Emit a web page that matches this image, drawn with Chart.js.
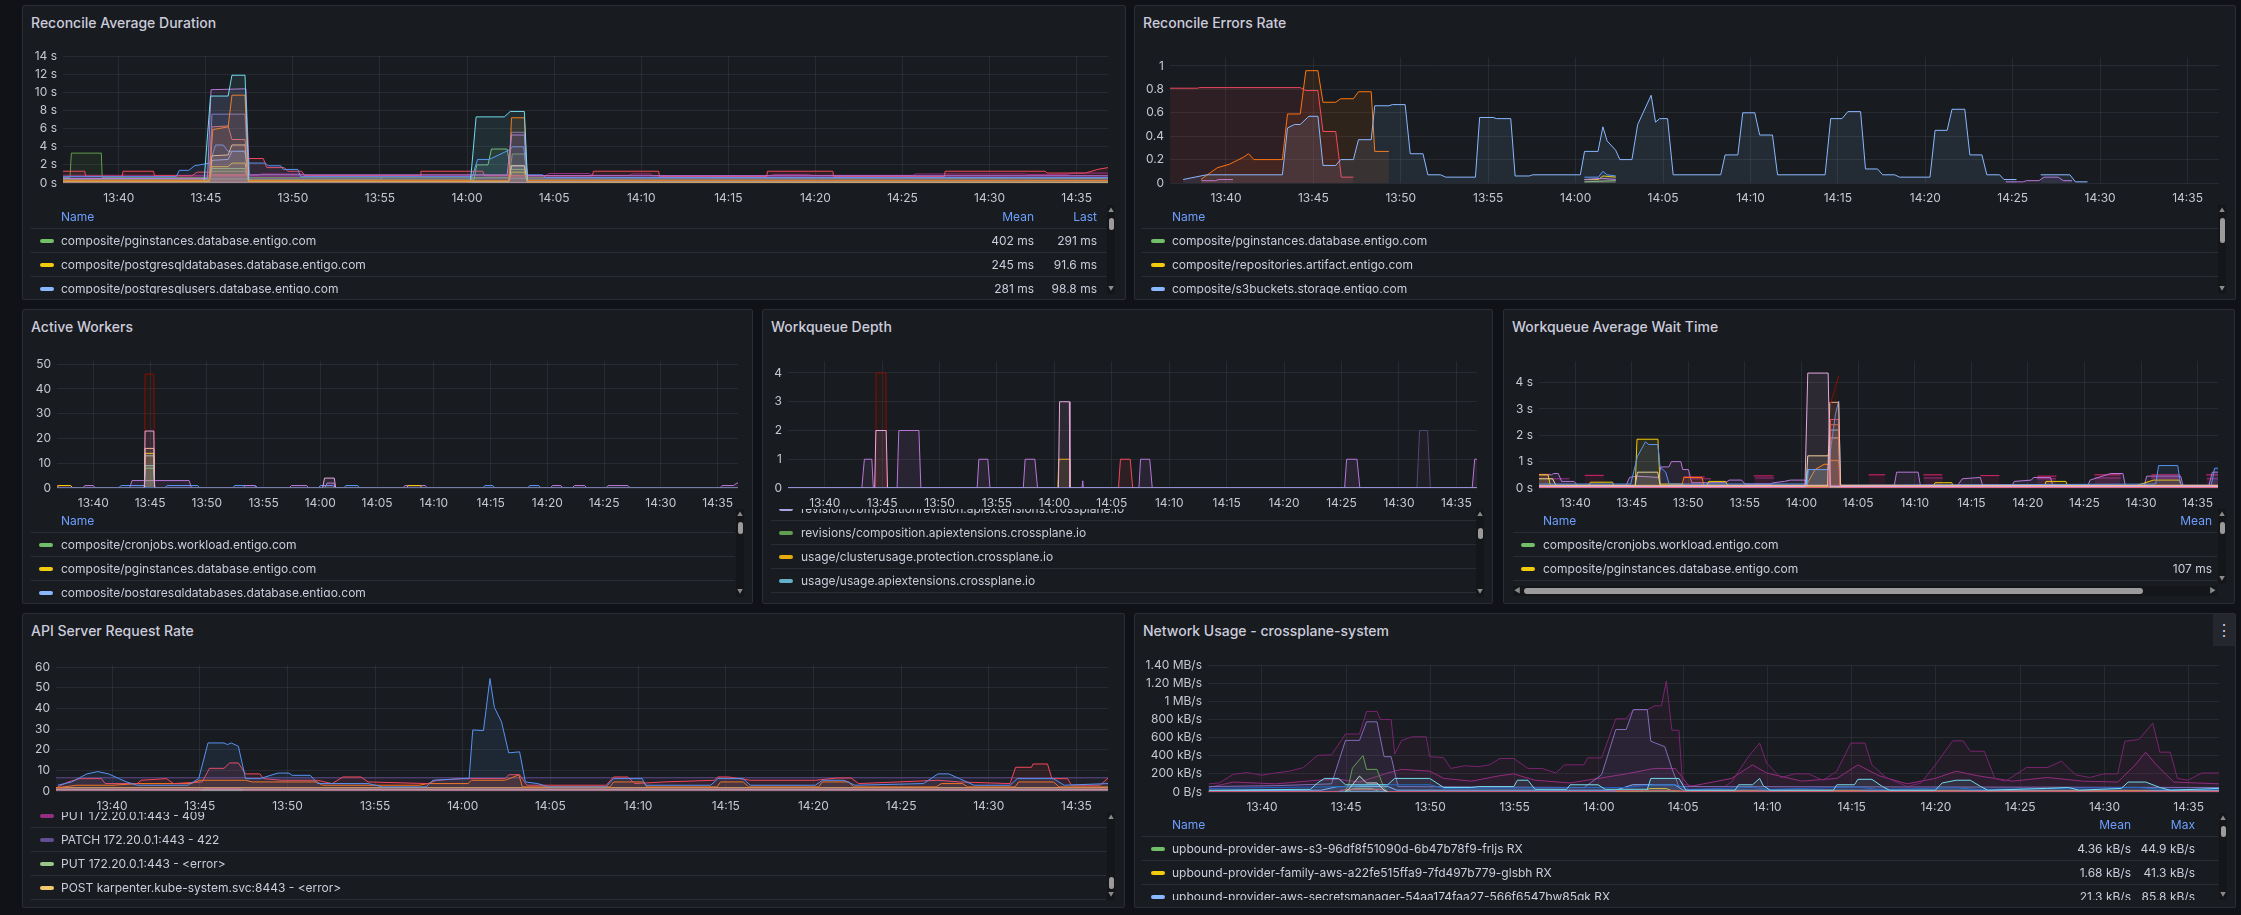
<!DOCTYPE html>
<html>
<head>
<meta charset="utf-8">
<script src="https://cdn.jsdelivr.net/npm/chart.js@4.4.1/dist/chart.umd.min.js"></script>
<style>
  html, body { margin: 0; padding: 0; background: #111217; width: 2241px; height: 915px; overflow: hidden; font-family: Inter, "Noto Sans", sans-serif; }
  .panel { position: absolute; background: #181b1f; border: 1px solid #2a2d33; border-radius: 2px; box-sizing: border-box; }
  .title { position: absolute; left: 8px; top: 8px; color: #ccccdc; font-size: 14px; font-weight: 500; line-height: 18px; white-space: nowrap; }
  .cw { position: absolute; }
  .lg { position: absolute; overflow: hidden; }
  .row { position: absolute; left: 0; right: 0; height: 24px; border-bottom: 1px solid #2a2d33; box-sizing: border-box; font-size: 12px; line-height: 24px; color: #ccccdc; white-space: nowrap; }
  .sw { position: absolute; top: 10px; width: 14px; height: 4px; border-radius: 2px; }
  .hd { color: #6e9fff; }
  .vs { position: absolute; width: 8px; background: #141619; }
  .th { position: absolute; left: 2px; width: 5px; border-radius: 3px; background: #9b9b9b; }
  .ar { position: absolute; left: 0; width: 8px; text-align: center; font-size: 6px; line-height: 8px; color: #8a8a8a; }
</style>
</head>
<body>
<script>
// ---- shared time axis (minutes after 13:00) ----
const tMin = 36.8, tMax = 96.8;
const timeTicks = [40, 45, 50, 55, 60, 65, 70, 75, 80, 85, 90, 95];
const timeLabels = ['13:40', '13:45', '13:50', '13:55', '14:00', '14:05', '14:10', '14:15', '14:20', '14:25', '14:30', '14:35'];

// ---- Reconcile Average Duration (s) ----
const durTicks = [0, 2, 4, 6, 8, 10, 12, 14];
const durLabels = ['0 s', '2 s', '4 s', '6 s', '8 s', '10 s', '12 s', '14 s'];
const durCyan = [[44.9,0.3],[45.27,9.6],[46.28,9.6],[46.5,11.9],[47.25,11.9],[47.47,0.3],[47.6,null],[60.2,0.3],[60.52,7.3],[62.14,7.3],[62.48,7.9],[63.29,7.9],[63.47,0.3]];
const durPurple = [[36.8,0.5],[45.1,0.5],[45.3,10.3],[47.3,10.4],[47.5,0.9],[62.3,0.9],[62.55,5.3],[63.29,5.3],[63.45,0.8],[96.8,0.8]];
const durOrange = [[36.8,0.3],[45.2,0.3],[45.4,5.9],[46.28,6.2],[46.5,9.7],[47.25,9.7],[47.45,0.3],[62.4,0.3],[62.55,7.2],[63.29,7.2],[63.45,0.3],[96.8,0.3]];
const durLav = [[45.2,0.4],[45.35,7.6],[47.25,7.6],[47.45,0.4],[47.6,null],[62.4,0.4],[62.55,5.6],[63.29,5.6],[63.45,0.4]];
const durCoral = [[45.2,0.6],[45.35,6.2],[46.28,6.3],[46.5,4.8],[47.25,4.8],[47.45,0.6]];
const durCream = [[45.2,0.3],[45.35,3.0],[46.28,3.1],[46.5,4.2],[47.25,4.2],[47.45,0.3],[47.6,null],[62.4,0.3],[62.55,1.9],[63.29,1.9],[63.45,0.3]];
const durBlue = [[36.8,0.7],[43.3,0.7],[43.48,1.4],[44.02,1.4],[44.35,1.9],[45.23,2.2],[45.56,4.2],[46.0,4.2],[46.28,3.5],[47.21,3.5],[47.47,2.2],[48.42,2.2],[48.57,1.9],[49.3,1.9],[49.45,1.5],[50.28,1.5],[50.45,0.7],[60.3,0.7],[60.6,2.6],[61.27,2.6],[62.48,3.7],[62.6,4.0],[63.25,4.0],[63.45,0.9],[64.34,0.9],[64.5,0.6],[96.8,0.6]];
const durRed = [[36.8,1.3],[38.05,1.3],[38.1,0.75],[40.2,0.75],[40.25,1.3],[42.0,1.3],[42.05,0.8],[44.2,0.8],[44.5,1.2],[45.2,1.2],[45.35,0.9],[47.25,0.9],[47.45,2.7],[48.3,2.7],[48.5,1.7],[49.5,1.7],[49.7,1.3],[50.5,1.3],[50.7,0.8],[57.3,0.8],[57.35,1.3],[60.9,1.3],[61.0,0.8],[67.2,0.8],[67.25,1.3],[71.0,1.3],[71.05,0.7],[77.2,0.7],[77.25,1.3],[81.0,1.3],[81.05,0.7],[87.4,0.7],[87.45,1.3],[93.2,1.3],[93.3,1.1],[95.5,1.1],[96.2,1.5],[96.8,1.7]];
const durPg = [[36.8,0.35],[45.2,0.35],[45.35,1.6],[47.25,1.6],[47.45,0.35],[60.4,0.35],[60.55,2.0],[61.2,2.0],[61.4,3.75],[62.3,3.75],[62.5,1.5],[63.29,1.5],[63.45,0.35],[96.8,0.3]];
const durPgDb = [[36.8,0.15],[45.2,0.15],[45.35,1.8],[46.28,1.8],[46.5,2.2],[47.25,2.2],[47.45,0.15],[62.4,0.15],[62.55,1.2],[63.29,1.2],[63.45,0.1],[96.8,0.1]];
const durPgUser = [[36.8,0.2],[45.2,0.2],[45.35,2.5],[46.28,2.6],[46.5,3.5],[47.25,3.5],[47.45,0.2],[62.4,0.2],[62.55,1.9],[63.29,1.9],[63.45,0.15],[96.8,0.1]];
const durGreen2 = [[36.8,0.6],[37.2,0.6],[37.28,3.3],[39.0,3.3],[39.05,0.6],[45.2,0.6],[45.35,1.3],[47.25,1.3],[47.45,0.6],[62.4,0.6],[62.6,3.2],[63.29,3.2],[63.45,0.6],[96.8,0.55]];
const durMag = [[36.8,0.85],[48,0.85],[48.2,1.0],[50.5,1.0],[50.7,0.8],[64.5,0.8],[64.7,1.05],[67.0,1.05],[67.2,0.85],[69.3,0.85],[69.5,1.0],[70.5,1.0],[70.7,0.8],[77.4,0.8],[77.6,0.95],[79.6,0.95],[79.8,0.85],[85.6,0.85],[85.8,1.0],[92.0,1.0],[92.2,0.95],[94.5,0.95],[94.7,1.1],[96.8,1.1]];
const durPlum = [[36.8,0.7],[52,0.7],[52.2,0.6],[74,0.6],[74.2,0.7],[96.8,0.65]];
const durLBlue = [[36.8,0.45],[55,0.45],[55.2,0.55],[96.8,0.5]];
const durPink = [[36.8,0.1],[60,0.1],[60.2,0.05],[96.8,0.05]];
const durLegend = [
  ['#73BF69', 'composite/pginstances.database.entigo.com', '402 ms', '291 ms'],
  ['#F2CC0C', 'composite/postgresqldatabases.database.entigo.com', '245 ms', '91.6 ms'],
  ['#8AB8FF', 'composite/postgresqlusers.database.entigo.com', '281 ms', '98.8 ms']
];

// ---- Reconcile Errors Rate ----
const errTicks = [0, 0.2, 0.4, 0.6, 0.8, 1];
const errLabels = ['0', '0.2', '0.4', '0.6', '0.8', '1'];
const errRed = [[36.8,0.81],[38.37,0.81],[38.5,0.815],[44.25,0.815],[44.57,0.79],[45.26,0.79],[45.55,0.44],[46.28,0.44],[46.6,0.05],[47.29,0.05]];
const errOrange = [[38.57,0.03],[39.5,0.13],[40.19,0.16],[41.0,0.22],[41.29,0.25],[41.6,0.2],[43.23,0.2],[43.52,0.59],[44.25,0.59],[44.57,0.96],[45.26,0.96],[45.55,0.69],[46.28,0.69],[46.56,0.72],[47.29,0.72],[47.58,0.78],[48.31,0.78],[48.51,0.27],[49.32,0.27]];
const errS3 = [[37.55,0.03],[38.89,0.07],[43.23,0.07],[43.52,0.47],[43.92,0.5],[44.25,0.5],[44.74,0.57],[45.26,0.57],[45.55,0.15],[46.28,0.15],[46.56,0.2],[47.29,0.2],[47.58,0.37],[48.31,0.37],[48.51,0.66],[49.32,0.66],[49.52,0.67],[50.25,0.67],[50.54,0.25],[51.27,0.25],[51.55,0.07],[52.28,0.07],[52.57,0.05],[54.27,0.05],[54.51,0.56],[55.28,0.56],[55.48,0.55],[56.29,0.55],[56.54,0.06],[57.35,0.06],[57.55,0.07],[60.27,0.07],[60.51,0.27],[61.28,0.27],[61.56,0.48],[61.8,0.36],[62.29,0.28],[62.53,0.2],[63.22,0.2],[63.55,0.5],[64.32,0.75],[64.57,0.52],[64.81,0.55],[65.26,0.55],[65.58,0.07],[68.3,0.07],[68.55,0.24],[69.28,0.24],[69.56,0.6],[70.25,0.6],[70.53,0.41],[71.26,0.41],[71.55,0.07],[74.27,0.07],[74.59,0.55],[75.24,0.55],[75.57,0.61],[76.3,0.61],[76.58,0.12],[77.27,0.12],[77.56,0.07],[78.25,0.07],[78.53,0.05],[80.27,0.05],[80.56,0.45],[81.25,0.45],[81.53,0.63],[82.26,0.63],[82.55,0.24],[83.24,0.24],[83.52,0.07],[84.25,0.07],[84.5,0.03],[85.22,0.03],[85.3,null],[86.6,0.07],[88.27,0.07],[88.59,0.01],[89.28,0.01]];
const errPurple = [[38.6,0.02],[39.4,0.02],[39.6,0.03],[40.4,0.03],[40.5,null],[60.5,0.03],[61.5,0.04],[62.3,0.03],[62.4,null],[84.6,0.01],[85.6,0.01],[85.8,0.02],[86.5,0.02],[86.8,0.05],[87.6,0.05],[87.9,0.02],[88.4,0.02]];
const errRepo = [[60.5,0.03],[61.3,0.03],[61.56,0.06],[62.3,0.05]];
const errPg = [[60.5,0.01],[62.3,0.02]];
const errBlue = [[60.5,0.05],[61.3,0.05],[61.56,0.1],[61.8,0.07],[62.3,0.06]];
const errLegend = [
  ['#73BF69', 'composite/pginstances.database.entigo.com'],
  ['#F2CC0C', 'composite/repositories.artifact.entigo.com'],
  ['#8AB8FF', 'composite/s3buckets.storage.entigo.com']
];

// ---- Active Workers ----
const wkTicks = [0, 10, 20, 30, 40, 50];
const wkLabels = ['0', '10', '20', '30', '40', '50'];
const wkRed = [[36.8,0],[44.5,0],[44.56,46],[45.33,46],[45.4,0],[96.8,0]];
const wkPink = [[36.8,0],[44.5,0],[44.56,23],[45.33,23],[45.4,0],[60.2,0],[60.37,4],[61.23,4],[61.35,0],[96.8,0]];
const wkPeach = [[44.5,0],[44.56,16],[45.33,16],[45.4,0]];
const wkPg = [[36.8,0],[36.93,1],[38.0,1],[38.2,0],[44.5,0],[44.56,14],[45.33,14],[45.4,0],[67.6,0],[67.75,1],[68.8,1],[68.98,0],[96.8,0]];
const wkSlate = [[44.5,0],[44.56,13],[45.33,13],[45.4,0]];
const wkCyan = [[44.5,0],[44.56,9],[45.33,9],[45.4,0]];
const wkCron = [[44.5,0],[44.56,8],[45.33,8],[45.4,0]];
const wkPurple = [[36.8,0],[39.06,0],[39.25,1],[40.0,1],[40.2,0],[43.2,0],[43.41,3],[48.44,3],[48.65,0],[53.2,0],[53.38,1],[54.2,1],[54.4,0],[57.26,0],[57.45,1],[58.8,1],[58.97,0],[60.4,0],[60.6,2],[61.2,2],[61.3,0],[67.28,0],[67.45,1],[69.25,1],[69.41,0],[80.28,0],[80.45,1],[81.2,1],[81.35,0],[82.2,0],[82.38,1],[83.3,1],[83.48,0],[85.18,0],[85.35,1],[87.1,1],[87.31,0],[95.2,0],[95.4,1],[96.4,1],[96.7,2],[96.8,2]];
const wkBlue = [[36.8,0],[42.2,0],[42.45,1],[44.5,1],[44.7,0],[46.3,0],[46.5,1],[49.2,1],[49.38,0],[52.28,0],[52.45,1],[54.3,1],[54.49,0],[59.82,0],[60.0,1],[61.1,1],[61.31,0],[62.08,0],[62.25,1],[63.3,1],[63.44,0],[74.31,0],[74.5,1],[75.2,1],[75.38,0],[78.28,0],[78.45,1],[79.25,1],[79.43,0],[96.8,0]];
const wkCoral = [[36.8,1],[38.0,1],[38.2,0],[38.3,null]];
const wkBase = [[36.8,0],[96.8,0]];
const wkLegend = [
  ['#73BF69', 'composite/cronjobs.workload.entigo.com'],
  ['#F2CC0C', 'composite/pginstances.database.entigo.com'],
  ['#8AB8FF', 'composite/postgresqldatabases.database.entigo.com']
];

// ---- Workqueue Depth ----
const dpTicks = [0, 1, 2, 3, 4];
const dpLabels = ['0', '1', '2', '3', '4'];
const dpPurple = [[36.8,0],[43.23,0],[43.45,1],[44.1,1],[44.23,0],[46.3,0],[46.45,2],[48.2,2],[48.37,0],[53.27,0],[53.42,1],[54.2,1],[54.39,0],[57.29,0],[57.45,1],[58.3,1],[58.53,0],[62.4,0],[62.47,0.25],[62.52,0],[67.36,0],[67.5,1],[68.3,1],[68.52,0],[85.27,0],[85.45,1],[86.35,1],[86.6,0],[96.38,0],[96.6,1],[96.8,1]];
const dpPink = [[36.8,0],[44.35,0],[44.45,2],[45.35,2],[45.47,0],[60.35,0],[60.45,3],[61.3,3],[61.35,0],[96.8,0]];
const dpRed = [[36.8,0],[44.44,0],[44.47,4],[45.33,4],[45.36,0],[96.8,0]];
const dpClusterUsage = [[36.8,0],[60.3,0],[60.38,1],[61.31,1],[61.35,0],[96.8,0]];
const dpCoral = [[36.8,0],[65.58,0],[65.75,1],[66.6,1],[66.82,0],[96.8,0]];
const dpPlum = [[36.8,0],[91.57,0],[91.8,2],[92.5,2],[92.74,0],[96.8,0]];
const dpUsage = [[36.8,0],[96.8,0]];
const dpLegend = [
  ['#AEA2E0', 'revision/compositionrevision.apiextensions.crossplane.io'],
  ['#629E51', 'revisions/composition.apiextensions.crossplane.io'],
  ['#E5AC0E', 'usage/clusterusage.protection.crossplane.io'],
  ['#64B0C8', 'usage/usage.apiextensions.crossplane.io']
];

// ---- Workqueue Average Wait Time (s) ----
const wtTicks = [0, 1, 2, 3, 4];
const wtLabels = ['0 s', '1 s', '2 s', '3 s', '4 s'];
const wtPink = [[36.8,0.05],[60.3,0.05],[60.55,4.36],[62.35,4.36],[62.55,0.05],[96.8,0.05]];
const wtDarkRed = [[62.56,3.2],[63.28,4.25]];
const wtPeach = [[36.8,0.1],[62.3,0.1],[62.5,3.25],[63.28,3.25],[63.45,0.1],[96.8,0.1]];
const wtBlue = [[36.8,0.15],[44.9,0.15],[45.5,1.2],[46.2,1.75],[46.5,1.65],[47.3,1.65],[47.5,0.8],[48.0,0.6],[48.3,0.15],[60.5,0.15],[60.6,0.7],[62.35,0.7],[62.55,1.4],[63.0,2.8],[63.28,3.3],[63.45,0.1],[91.3,0.15],[91.55,0.85],[93.24,0.85],[93.5,0.1],[96.2,0.1],[96.5,0.75],[96.8,0.75]];
const wtRed = [[36.8,0.02],[62.45,0.02],[62.55,2.6],[63.28,2.6],[63.4,0.02],[96.8,0.02]];
const wtRust = [[62.45,0.1],[62.55,2.4],[63.28,2.4],[63.4,0.1]];
const wtCyan = [[36.8,0.05],[60.4,0.05],[60.55,0.7],[62.35,0.7],[62.55,2.2],[63.28,2.2],[63.4,0.05],[96.8,0.05]];
const wtCream = [[36.8,0.35],[38.0,0.35],[38.3,0.1],[45.3,0.1],[45.5,0.6],[47.3,0.6],[47.5,0.1],[60.4,0.1],[60.55,1.22],[62.35,1.22],[62.55,1.9],[63.28,1.9],[63.45,0.1],[96.8,0.1]];
const wtOrange = [[36.8,0.05],[49.4,0.05],[49.6,0.4],[51.2,0.4],[51.4,0.05],[60.4,0.05],[60.6,0.25],[61.2,0.7],[62.0,0.9],[62.35,0.9],[62.55,1.05],[63.28,1.05],[63.45,0.05],[96.8,0.05]];
const wtPg = [[36.8,0.5],[37.6,0.5],[37.8,0.1],[41.2,0.1],[41.35,0.22],[43.3,0.22],[43.45,0.05],[45.3,0.05],[45.46,1.85],[47.31,1.85],[47.5,0.15],[49.5,0.15],[49.7,0.05],[51.6,0.05],[51.8,0.25],[53.3,0.25],[53.5,0.05],[71.6,0.05],[71.8,0.2],[73.28,0.2],[73.4,0.05],[81.47,0.05],[81.6,0.25],[83.36,0.25],[83.5,0.08],[89.5,0.08],[91.1,0.3],[93.4,0.3],[93.6,0.05],[96.8,0.05]];
const wtPurple = [[36.8,0.5],[37.9,0.5],[38.1,0.55],[38.5,0.55],[38.8,0.25],[39.9,0.25],[40.2,0.1],[44.5,0.1],[44.8,0.4],[45.4,0.45],[47.4,0.4],[47.56,0.8],[48.28,0.8],[48.5,1.0],[49.33,1.0],[49.5,0.7],[50.0,0.7],[50.3,0.2],[53.3,0.2],[53.6,0.3],[54.7,0.3],[55.0,0.15],[57.3,0.15],[57.5,0.2],[58.5,0.25],[59.0,0.3],[60.3,0.3],[60.5,0.1],[68.2,0.1],[68.4,0.6],[70.3,0.6],[70.5,0.1],[73.8,0.1],[74.2,0.35],[75.8,0.4],[76.0,0.1],[78.6,0.1],[78.8,0.25],[80.3,0.3],[80.5,0.4],[82.0,0.4],[82.2,0.1],[85.3,0.1],[85.5,0.3],[87.3,0.55],[88.4,0.55],[88.6,0.1],[90.3,0.1],[90.5,0.45],[93.5,0.45],[93.7,0.1],[96.0,0.1],[96.3,0.6],[96.8,0.6]];
const wtMag = [[36.8,0.52],[37.8,0.52],[37.9,null],[40.84,0.48],[42.52,0.48],[42.6,null],[49.54,0.42],[51.43,0.42],[51.5,null],[55.76,0.46],[57.52,0.46],[57.6,null],[65.92,0.5],[67.39,0.5],[67.5,null],[70.76,0.5],[72.44,0.5],[72.5,null],[75.8,0.47],[77.48,0.47],[77.6,null],[80.84,0.45],[82.52,0.45],[82.6,null],[85.88,0.5],[88.19,0.5],[88.3,null],[90.92,0.5],[93.45,0.5],[93.5,null],[95.76,0.5],[96.8,0.5]];
const wtMag2 = [[37.9,0.35],[39.5,0.35],[39.6,null],[50.3,0.35],[52.0,0.35],[52.1,null],[55.9,0.38],[57.6,0.38],[57.7,null],[70.8,0.38],[72.5,0.38],[72.6,null],[80.8,0.35],[82.5,0.35],[82.6,null],[85.9,0.38],[88.2,0.38],[88.3,null],[90.9,0.38],[93.4,0.38],[93.5,null],[95.8,0.35],[96.8,0.35]];
const wtCron = [[36.8,0.01],[96.8,0.01]];
const wtLegend = [
  ['#73BF69', 'composite/cronjobs.workload.entigo.com', ''],
  ['#F2CC0C', 'composite/pginstances.database.entigo.com', '107 ms']
];

// ---- API Server Request Rate ----
const apiTicks = [0, 10, 20, 30, 40, 50, 60];
const apiLabels = ['0', '10', '20', '30', '40', '50', '60'];
const apiBlue = [[36.9,2.8],[37.7,4.4],[38.56,8.3],[39.18,9.4],[39.8,8.3],[40.4,6.0],[40.82,4.4],[41.44,2.8],[44.32,2.8],[44.94,6.0],[45.47,23.3],[46.38,23.3],[46.58,22.5],[46.79,23.3],[47.2,21.7],[47.61,6.0],[48.43,6.0],[49.46,8.7],[50.08,8.7],[50.28,7.6],[51.31,7.6],[51.72,3.6],[54.6,3.6],[55.43,2.0],[57.9,2.0],[58.1,3.6],[58.3,5.2],[59.95,6.0],[60.36,6.0],[60.57,29.6],[61.18,29.3],[61.55,54.5],[61.8,40.6],[62.21,33.5],[62.62,18.5],[63.24,19.0],[63.57,4.4],[64.27,3.6],[64.89,2.0],[68.18,2.0],[68.59,6.0],[70.23,6.0],[70.44,2.8],[74.14,2.8],[74.55,6.0],[75.99,6.0],[76.4,2.8],[80.1,2.8],[80.52,5.2],[81.75,5.2],[82.37,2.8],[86.28,3.6],[87.1,8.3],[87.72,8.3],[88.33,6.0],[89.16,2.8],[91.21,2.8],[91.62,6.0],[93.68,6.0],[94.3,2.8],[96.8,3.6]];
const apiRed = [[36.9,2.0],[37.5,4.4],[38.15,6.0],[39.4,6.0],[39.6,3.6],[41.44,3.6],[41.65,5.2],[43.1,6.0],[43.5,3.6],[45.14,4.4],[45.55,11.0],[46.38,11.0],[46.7,13.6],[47.2,13.6],[47.61,8.3],[48.43,8.3],[48.64,6.0],[49.67,5.2],[51.72,5.2],[52.55,3.6],[53.16,6.8],[54.19,6.8],[54.6,4.4],[58.0,3.6],[58.5,5.2],[59.95,6.0],[62.42,6.0],[62.62,7.9],[63.24,7.9],[63.65,2.8],[68.18,2.8],[68.59,6.8],[69.41,6.8],[69.82,3.6],[71.47,4.4],[74.35,5.2],[74.55,6.8],[75.17,6.8],[76.4,5.2],[80.1,5.2],[81.34,6.3],[82.16,6.3],[82.57,3.6],[87.1,5.2],[88.33,4.4],[91.21,3.6],[91.53,11.5],[92.44,11.5],[92.52,13.1],[93.35,13.1],[93.6,6.0],[94.5,6.0],[94.71,2.8],[96.35,2.8],[96.8,6.3]];
const apiOrange = [[36.8,1.5],[38.0,2.8],[40.0,2.8],[41.5,3.6],[44.5,3.6],[45.0,5.2],[47.6,5.2],[48.0,4.4],[51.7,4.4],[52.0,2.8],[57.5,2.8],[58.0,3.6],[60.3,3.6],[60.5,5.2],[62.4,5.2],[63.2,7.8],[63.4,2.0],[68.4,2.0],[68.6,4.4],[70.3,4.4],[70.5,2.0],[74.5,2.0],[74.7,4.4],[76.0,4.4],[76.3,2.0],[80.3,2.0],[80.5,4.4],[82.0,4.4],[82.3,2.0],[87.0,2.0],[87.3,3.6],[88.5,3.6],[88.8,2.0],[91.5,2.0],[91.7,4.4],[93.7,4.4],[94.0,2.0],[96.8,2.0]];
const apiPatch422 = [[36.8,6.4],[96.8,6.4]];
const apiPut409 = [[36.8,0.3],[45,0.3],[45.3,1.2],[47.3,1.2],[47.5,0.3],[96.8,0.3]];
const apiPutErr = [[36.8,0.6],[96.8,0.6]];
const apiPostErr = [[36.8,1.6],[96.8,1.6]];
const apiPink = [[36.8,0.9],[96.8,0.9]];
const apiTeal = [[36.8,0.15],[96.8,0.15]];
const apiLegend = [
  ['#962D82', 'PUT 172.20.0.1:443 - 409'],
  ['#614D93', 'PATCH 172.20.0.1:443 - 422'],
  ['#9AC48A', 'PUT 172.20.0.1:443 - <error>'],
  ['#F2C96D', 'POST karpenter.kube-system.svc:8443 - <error>']
];

// ---- Network Usage (kB/s) ----
const netTicks = [0, 200, 400, 600, 800, 1000, 1200, 1400];
const netLabels = ['0 B/s', '200 kB/s', '400 kB/s', '600 kB/s', '800 kB/s', '1 MB/s', '1.20 MB/s', '1.40 MB/s'];
const netMag = [[36.85,90],[37.47,100],[38.3,195],[39.13,215],[39.97,185],[40.8,210],[41.63,230],[42.46,270],[43.3,405],[44.13,410],[44.96,640],[45.79,640],[46.21,890],[46.83,890],[47.04,800],[47.67,800],[47.88,420],[48.29,570],[48.92,610],[49.75,610],[49.96,390],[50.79,380],[51.21,260],[52.04,290],[52.87,280],[53.5,300],[54.12,370],[54.95,370],[55.79,260],[56.62,260],[57.45,210],[57.95,300],[59.12,300],[59.33,377],[60.16,377],[61.0,808],[61.62,808],[62.04,908],[62.87,908],[63.29,951],[63.71,951],[64.0,1225],[64.33,682],[64.75,682],[64.96,90],[65.79,60],[67.45,60],[67.87,110],[68.29,230],[68.91,400],[69.54,540],[69.95,320],[70.79,160],[71.62,200],[72.45,200],[73.29,130],[74.12,230],[74.95,540],[75.79,540],[76.2,300],[77.04,160],[78.29,60],[79.12,100],[79.96,300],[81.0,565],[81.62,565],[82.04,450],[82.87,450],[83.5,150],[84.12,120],[85.37,270],[86.62,270],[87.45,340],[88.29,190],[89.12,160],[89.96,200],[90.79,200],[91.21,560],[92.04,580],[92.87,760],[93.29,440],[93.91,440],[94.33,150],[94.95,130],[95.79,210],[96.8,210]];
const netLav = [[36.85,60],[40.8,70],[44.13,90],[44.96,570],[45.79,570],[46.21,775],[46.83,775],[47.25,390],[47.67,390],[48.08,60],[59.12,50],[60.16,190],[61.0,690],[61.62,690],[62.04,910],[62.87,910],[63.08,560],[63.91,500],[64.33,260],[64.75,60],[96.8,50]];
const netPlum = [[36.85,50],[38.3,110],[40.8,90],[43.3,130],[44.55,140],[45.8,110],[47.46,210],[48.29,250],[49.96,230],[50.79,150],[52.45,120],[54.12,180],[54.95,200],[56.2,130],[58.29,100],[61.62,200],[63.29,260],[64.54,260],[65.37,60],[67.87,150],[69.12,300],[69.95,210],[72.04,120],[74.12,150],[75.37,300],[76.62,180],[78.29,90],[79.96,150],[81.2,230],[82.45,180],[84.54,120],[86.62,160],[88.7,120],[90.79,110],[91.83,300],[92.45,440],[93.08,300],[94.12,110],[96.8,90]];
const netCyan = [[36.85,20],[42.88,30],[43.3,100],[43.71,150],[44.55,150],[44.96,80],[47.46,80],[47.88,150],[49.96,150],[50.79,50],[52.45,50],[52.87,60],[54.95,60],[55.16,130],[55.79,130],[56.2,30],[58.08,30],[58.29,80],[59.95,80],[60.37,30],[62.87,30],[63.08,150],[64.75,150],[65.16,20],[68.08,20],[68.29,80],[69.12,80],[69.54,150],[69.75,70],[70.16,20],[73.91,20],[74.12,80],[75.16,80],[75.37,140],[76.2,140],[76.83,60],[77.25,20],[79.96,20],[80.37,100],[81.2,130],[82.04,130],[82.66,60],[83.08,20],[86.62,40],[87.87,50],[88.5,20],[91.0,40],[91.41,110],[92.45,110],[93.29,50],[93.91,20],[96.8,40]];
const netNavy = [[36.85,40],[44.96,60],[46.6,80],[49.96,80],[50.79,40],[61.62,50],[63.29,80],[64.54,80],[65.37,30],[69.12,50],[70.0,30],[75.4,55],[76.5,30],[81.2,45],[82.4,30],[92.0,50],[93.5,30],[96.8,30]];
const netGreen = [[44.9,0],[45.15,80],[45.37,263],[46.0,403],[46.21,250],[46.83,250],[47.25,40],[47.5,0]];
const netWhite = [[44.9,0],[45.15,30],[45.79,176],[46.21,100],[46.83,100],[47.25,20],[47.5,0]];
const netRed = [[36.85,5],[44.5,5],[45.0,30],[47.0,30],[47.5,5],[60.5,5],[61.0,15],[64.5,15],[65.0,5],[96.8,5]];
const netOrange = [[61.0,8],[63.5,18],[64.5,18],[65.0,8],[69.0,12],[70.0,8],[75.0,14],[76.0,8],[81.0,12],[82.0,8],[92.0,14],[93.0,8],[96.8,8]];
const netBlue = [[36.85,4],[61.0,4],[61.1,null]];
const netS3 = [[36.85,3],[45.0,3],[45.5,40],[46.5,40],[47.0,3],[96.8,3]];
const netFamily = [[36.85,1],[62.5,1],[63.0,38],[64.0,38],[64.5,1],[96.8,1]];
const netSecrets = [[36.85,15],[43.5,20],[44.5,60],[47.5,60],[48.0,20],[61.0,20],[62.0,80],[64.5,80],[65.0,20],[96.8,18]];
const netLegend = [
  ['#73BF69', 'upbound-provider-aws-s3-96df8f51090d-6b47b78f9-frljs RX', '4.36 kB/s', '44.9 kB/s'],
  ['#F2CC0C', 'upbound-provider-family-aws-a22fe515ffa9-7fd497b779-glsbh RX', '1.68 kB/s', '41.3 kB/s'],
  ['#8AB8FF', 'upbound-provider-aws-secretsmanager-54aa174faa27-566f6547bw85gk RX', '21.3 kB/s', '85.8 kB/s']
];

// ---- helpers ----
const GRID = 'rgba(204,204,220,0.09)';
const TXT = '#c7c7d1';
Chart.defaults.font.family = 'Inter, "Noto Sans", sans-serif';
Chart.defaults.font.size = 12;
Chart.defaults.color = TXT;

function rgba(hex, a) {
  const n = parseInt(hex.slice(1), 16);
  return 'rgba(' + (n >> 16) + ',' + ((n >> 8) & 255) + ',' + (n & 255) + ',' + a + ')';
}
function ds(color, pts, alpha) {
  return {
    data: pts.map(p => ({ x: p[0], y: p[1] })),
    borderColor: color,
    backgroundColor: rgba(color, alpha === undefined ? 0.1 : alpha),
    borderWidth: 1, pointRadius: 0, pointHoverRadius: 0,
    fill: 'origin', tension: 0, spanGaps: false
  };
}
function el(cls, css, parent, text) {
  const d = document.createElement('div');
  if (cls) d.className = cls;
  d.style.cssText = css;
  if (text !== undefined) d.textContent = text;
  (parent || document.body).appendChild(d);
  return d;
}
function panel(x, y, w, h, title) {
  const p = el('panel', `left:${x}px;top:${y}px;width:${w}px;height:${h}px`);
  el('title', '', p, title);
  return p;
}
function chart(box, yTicks, yLabels, yMax, sets) {
  const [l, t, r, b] = box;
  const wrap = el('cw', `left:${l - 70}px;top:${t - 10}px;width:${r - l + 74}px;height:${b - t + 40}px`);
  const cv = document.createElement('canvas');
  wrap.appendChild(cv);
  return new Chart(cv, {
    type: 'line',
    data: { datasets: sets },
    options: {
      responsive: true, maintainAspectRatio: false, animation: false, events: [],
      layout: { padding: { left: 0, top: 10, right: 4, bottom: 0 } },
      plugins: { legend: { display: false }, tooltip: { enabled: false } },
      scales: {
        x: {
          type: 'linear', min: tMin, max: tMax,
          afterBuildTicks: s => { s.ticks = timeTicks.map(v => ({ value: v })); },
          afterFit: s => { s.height = 30; },
          ticks: { autoSkip: false, maxRotation: 0, padding: 8, callback: (v, i) => timeLabels[i] },
          grid: { color: GRID, drawTicks: false }, border: { display: false }
        },
        y: {
          type: 'linear', min: 0, max: yMax,
          afterBuildTicks: s => { s.ticks = yTicks.map(v => ({ value: v })); },
          afterFit: s => { s.width = 70; },
          ticks: { padding: 6, callback: (v, i) => yLabels[i] },
          grid: { color: GRID, drawTicks: false }, border: { display: false }
        }
      }
    }
  });
}
// legend table: vp = [x0,y0,x1,y1] visible box, top0 = page y of first row
function legend(vp, top0, header, swX, txX, cols, rows) {
  const [x0, y0, x1, y1] = vp;
  const box = el('lg', `left:${x0}px;top:${y0}px;width:${x1 - x0}px;height:${y1 - y0}px`);
  let y = top0 - y0;
  if (header) {
    const h = el('row hd', `top:${y}px`, box);
    el('', `position:absolute;left:${txX - x0}px`, h, 'Name');
    cols.forEach(c => el('', `position:absolute;right:${x1 - c[1]}px`, h, c[0]));
    y += 24;
  }
  rows.forEach(rw => {
    const r = el('row', `top:${y}px`, box);
    el('sw', `left:${swX - x0}px;background:${rw[0]}`, r);
    el('', `position:absolute;left:${txX - x0}px`, r, rw[1]);
    cols.forEach((c, i) => el('', `position:absolute;right:${x1 - c[1]}px`, r, rw[2 + i] || ''));
    y += 24;
  });
}
function vscroll(x, y0, y1, t0, t1) {
  const s = el('vs', `left:${x}px;top:${y0}px;height:${y1 - y0}px`);
  el('ar', 'top:1px', s, '▲');
  el('ar', 'bottom:1px', s, '▼');
  el('th', `top:${t0 - y0}px;height:${t1 - t0}px`, s);
}

// ---- panels ----
panel(22, 5, 1104, 295, 'Reconcile Average Duration');
panel(1134, 5, 1102, 295, 'Reconcile Errors Rate');
panel(22, 309, 731, 295, 'Active Workers');
panel(762, 309, 731, 295, 'Workqueue Depth');
panel(1503, 309, 732, 295, 'Workqueue Average Wait Time');
panel(22, 613, 1103, 295, 'API Server Request Rate');
const netPanel = panel(1134, 613, 1102, 295, 'Network Usage - crossplane-system');
el('', 'position:absolute;right:0;top:0;width:22px;height:32px;background:#24272d;color:#ccccdc;font-size:16px;line-height:32px;text-align:center', netPanel, '⋮');

chart([63, 53, 1108, 183], durTicks, durLabels, 14, [
  ds('#70DBED', durCyan), ds('#B877D9', durPurple), ds('#FF780A', durOrange), ds('#806EB7', durLav),
  ds('#EA6460', durCoral), ds('#F4D598', durCream), ds('#5794F2', durBlue), ds('#F2495C', durRed),
  ds('#73BF69', durPg), ds('#F2CC0C', durPgDb), ds('#8AB8FF', durPgUser), ds('#629E51', durGreen2),
  ds('#962D82', durMag), ds('#6D1F62', durPlum), ds('#82B5D8', durLBlue), ds('#E5A8E2', durPink)
]);
legend([31, 205, 1106, 294], 205, true, 40, 61, [['Mean', 1034], ['Last', 1097]], durLegend);
vscroll(1107, 205, 294, 218, 230);

chart([1170, 54, 2219, 183], errTicks, errLabels, 1.075, [
  ds('#8AB8FF', errS3), ds('#F2495C', errRed), ds('#FF780A', errOrange), ds('#B877D9', errPurple),
  ds('#F2CC0C', errRepo), ds('#73BF69', errPg), ds('#5794F2', errBlue)
]);
legend([1142, 205, 2218, 294], 205, true, 1151, 1172, [], errLegend);
vscroll(2218, 205, 294, 218, 243);

chart([57, 358, 738, 488], wkTicks, wkLabels, 51.2, [
  ds('#1F60C4', wkBase), ds('#E5A8E2', wkPink), ds('#F9BA8F', wkPeach), ds('#F2CC0C', wkPg),
  ds('#82B5D8', wkSlate), ds('#65C5DB', wkCyan), ds('#73BF69', wkCron), ds('#890F02', wkRed),
  ds('#B877D9', wkPurple), ds('#5794F2', wkBlue), ds('#F2495C', wkCoral)
]);
legend([31, 509, 735, 597], 509, true, 39, 61, [], wkLegend);
vscroll(736, 509, 597, 522, 534);

chart([788, 358, 1477, 488], dpTicks, dpLabels, 4.41, [
  ds('#5794F2', dpUsage), ds('#E5A8E2', dpPink), ds('#B877D9', dpPurple), ds('#E5AC0E', dpClusterUsage),
  ds('#F2495C', dpCoral), ds('#584477', dpPlum), ds('#890F02', dpRed)
]);
legend([771, 509, 1476, 597], 497, false, 779, 801, [], dpLegend);
vscroll(1476, 509, 597, 528, 539);

chart([1539, 358, 2218, 488], wtTicks, wtLabels, 4.81, [
  ds('#E5A8E2', wtPink), ds('#890F02', wtDarkRed), ds('#F9BA8F', wtPeach), ds('#5794F2', wtBlue),
  ds('#F2495C', wtRed), ds('#E0752D', wtRust), ds('#70DBED', wtCyan), ds('#F4D598', wtCream),
  ds('#FF780A', wtOrange), ds('#F2CC0C', wtPg), ds('#B877D9', wtPurple), ds('#E0226E', wtMag),
  ds('#962D82', wtMag2), ds('#73BF69', wtCron)
]);
legend([1513, 509, 2217, 584], 509, true, 1521, 1543, [['Mean', 2212]], wtLegend);
vscroll(2218, 509, 584, 522, 534);
const hs = el('', 'position:absolute;left:1513px;top:586px;width:704px;height:10px;background:#141619');
el('', 'position:absolute;left:1px;top:0;font-size:7px;line-height:10px;color:#8a8a8a', hs, '◀');
el('', 'position:absolute;right:1px;top:0;font-size:7px;line-height:10px;color:#8a8a8a', hs, '▶');
el('', 'position:absolute;left:11px;top:2px;width:619px;height:6px;border-radius:3px;background:#9b9b9b', hs);

chart([56, 662, 1108, 791], apiTicks, apiLabels, 61, [
  ds('#5794F2', apiBlue), ds('#F2495C', apiRed), ds('#FF780A', apiOrange), ds('#614D93', apiPatch422),
  ds('#F2C96D', apiPostErr), ds('#E5A8E2', apiPink), ds('#9AC48A', apiPutErr), ds('#962D82', apiPut409),
  ds('#65C5DB', apiTeal)
]);
legend([31, 812, 1106, 900], 804, false, 40, 61, [], apiLegend);
vscroll(1107, 812, 900, 877, 889);

chart([1208, 662, 2219, 792], netTicks, netLabels, 1400, [
  ds('#70DBED', netCyan), ds('#629E51', netGreen), ds('#DEDAF7', netWhite), ds('#1F60C4', netNavy),
  ds('#F2495C', netRed), ds('#FF780A', netOrange), ds('#5794F2', netBlue), ds('#8AB8FF', netSecrets),
  ds('#73BF69', netS3), ds('#F2CC0C', netFamily), ds('#806EB7', netLav), ds('#7A2470', netMag),
  ds('#962D82', netPlum)
]);
legend([1142, 813, 2218, 900], 813, true, 1151, 1172, [['Mean', 2131], ['Max', 2195]], netLegend);
vscroll(2219, 813, 900, 826, 837);
</script>
</body>
</html>
